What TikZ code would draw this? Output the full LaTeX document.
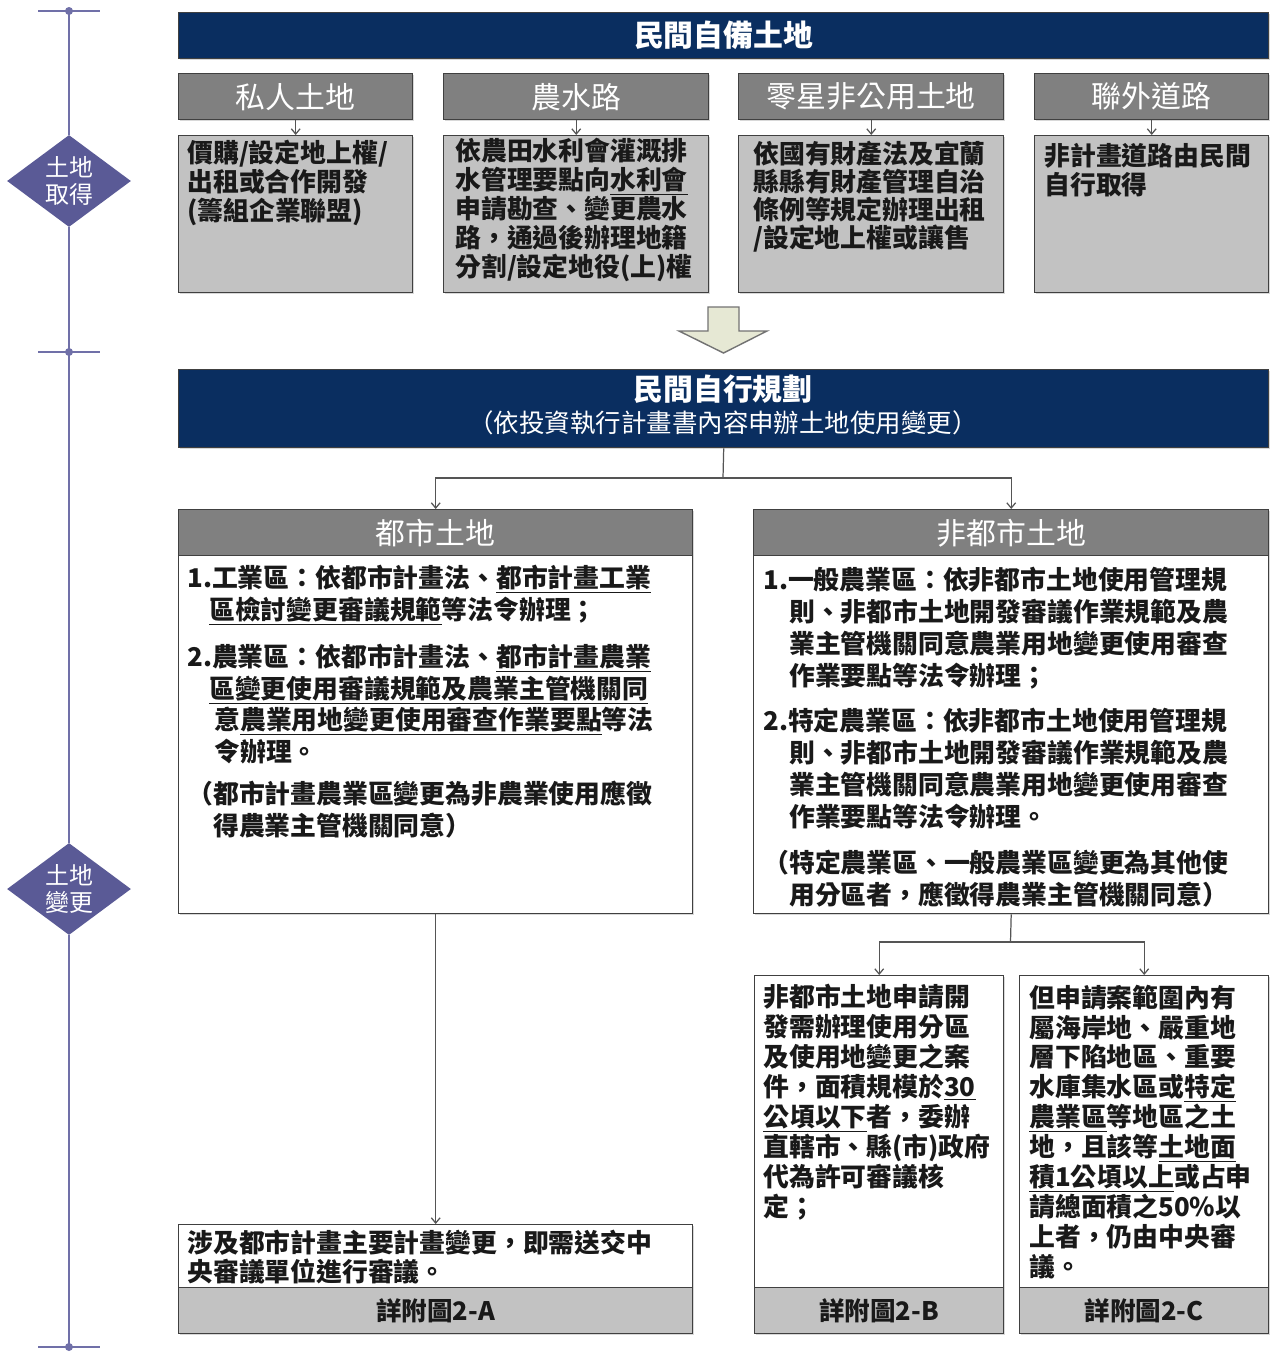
\documentclass[tikz,border=0pt]{standalone}
\usepackage{fontspec}
\setmainfont{Noto Sans CJK TC}
\usetikzlibrary{shapes.geometric,arrows.meta,shadows}
\definecolor{navy}{RGB}{10,46,96}
\definecolor{hdrgray}{RGB}{128,128,128}
\definecolor{boxgray}{RGB}{194,194,194}
\definecolor{bordergray}{RGB}{64,64,64}
\definecolor{tlcol}{RGB}{112,112,168}
\definecolor{dmcol}{RGB}{90,90,150}
\definecolor{arrfill}{RGB}{230,232,212}
\definecolor{conncol}{RGB}{85,85,85}
\definecolor{ink}{RGB}{25,25,25}
\newcommand\rectnode[7]{\node[#2, anchor=north west, minimum width={(#5-#3)*0.02cm}, minimum height={(#6-#4)*0.02cm}] (#1) at (#3,#4) {#7};}
\newcommand\uln[1]{\underline{#1}}
\begin{document}
\begin{tikzpicture}[x=0.02cm,y=-0.02cm,
  shd/.style={drop shadow={shadow xshift=1pt,shadow yshift=-1pt,opacity=0.3}},
  banner/.style={draw=bordergray, fill=navy, line width=0.8pt, text=white, inner sep=0pt, shd},
  hdr/.style={draw=bordergray, fill=hdrgray, line width=0.8pt, text=white, inner sep=0pt, font=\fontsize{17}{20}\selectfont, shd},
  graybox/.style={draw=bordergray, fill=boxgray, line width=0.8pt, inner sep=0pt, shd},
  whitebox/.style={draw=bordergray, fill=white, line width=0.8pt, inner sep=0pt, shd},
  foot/.style={draw=bordergray, fill=boxgray, line width=0.8pt, inner sep=0pt, text=ink, font=\fontsize{14.5}{17}\selectfont\bfseries, shd},
  body/.style={anchor=base west, inner sep=0pt, align=left, text=ink, font=\fontsize{14.7}{#1}\selectfont\bfseries},
  conn/.style={draw=conncol, line width=0.7pt},
  arr/.style={conn, -{Straight Barb[length=3pt,width=5pt]}},
  tl/.style={draw=tlcol, line width=1pt},
  dm/.style={diamond, aspect=1.35, fill=dmcol, text=white, inner sep=0pt, minimum width=2.48cm, minimum height=1.84cm, align=center, font=\fontsize{13.6}{15.3}\selectfont},
  dot/.style={circle, fill=tlcol, inner sep=0pt, minimum size=0.16cm}
]
\fill[white] (0,0) rectangle (1270,1352);
\useasboundingbox (0,0) rectangle (1270,1352);

% ---------- timeline ----------
\coordinate (t1) at (69,11);
\coordinate (t2) at (69,352);
\coordinate (t3) at (69,1347);
\draw[tl] (38,11) -- (100,11);
\draw[tl] (38,352) -- (100,352);
\draw[tl] (38,1347) -- (100,1347);
\node[dm] (d1) at (69,181) {土地\\取得};
\node[dm] (d2) at (69,889) {土地\\變更};
\draw[tl] (t1) -- (d1.north);
\draw[tl] (d1.south) -- (t2);
\draw[tl] (t2) -- (d2.north);
\draw[tl] (d2.south) -- (t3);
\node[dot] (p1) at (t1) {};
\node[dot] (p2) at (t2) {};
\node[dot] (p3) at (t3) {};

% ---------- top banner ----------
\rectnode{b1}{banner, font=\fontsize{17}{20}\selectfont\bfseries}{178}{12}{1268}{58}{民間自備土地}

\rectnode{h1}{hdr}{178}{73}{412}{119}{私人土地}
\rectnode{h2}{hdr}{443}{73}{708}{119}{農水路}
\rectnode{h3}{hdr}{738}{73}{1003}{119}{零星非公用土地}
\rectnode{h4}{hdr}{1034}{73}{1268}{119}{聯外道路}

\rectnode{c1}{graybox}{178}{135}{412}{292}{}
\rectnode{c2}{graybox}{443}{135}{708}{292}{}
\rectnode{c3}{graybox}{738}{135}{1003}{292}{}
\rectnode{c4}{graybox}{1034}{135}{1268}{292}{}

\draw[arr] (h1.south) -- (c1.north);
\draw[arr] (h2.south) -- (c2.north);
\draw[arr] (h3.south) -- (c3.north);
\draw[arr] (h4.south) -- (c4.north);

% (base anchor = baseline of the last line)
\node[body=16.44] (pt1) at (187,220) {價購/設定地上權/\\出租或合作開發\\(籌組企業聯盟)};
\node[body=16.44] (pt2) at (455,276) {依農田水利會灌溉排\\水管理要點向\uln{水利會}\\申請勘查、變更農水\\路，通過後辦理地籍\\分割/設定地役(上)權};
\node[body=15.9] (pt3) at (753,247) {依國有財產法及宜蘭\\縣縣有財產管理自治\\條例等規定辦理出租\\/設定地上權或讓售};
\node[body=16.44] (pt4) at (1044,194) {非計畫道路由民間\\自行取得};

% ---------- block arrow ----------
\draw[fill=arrfill, draw=black!55, line width=0.8pt] (708,307) -- (739,307) -- (739,331) -- (767,331) -- (723.5,353) -- (679,331) -- (708,331) -- cycle;

% ---------- second banner ----------
\rectnode{b2}{banner}{178}{369}{1268}{447}{}
\node[text=white, inner sep=0pt, font=\fontsize{17}{20}\selectfont\bfseries] (b2a) at (723,389) {民間自行規劃};
\node[text=white, inner sep=0pt, font=\fontsize{14.5}{17}\selectfont] (b2b) at (723,423) {（依投資執行計畫書內容申辦土地使用變更）};

% ---------- urban / non-urban ----------
\rectnode{uh}{hdr}{178}{509}{692}{555}{都市土地}
\rectnode{ub}{whitebox}{178}{555}{692}{913}{}
\rectnode{nh}{hdr}{753}{509}{1268}{555}{非都市土地}
\rectnode{nb}{whitebox}{753}{555}{1268}{913}{}

\coordinate (j1) at (723,478);
\draw[conn] (b2.south) -- (j1);
\draw[arr] (j1) -| (uh.north);
\draw[arr] (j1) -| (nh.north);

\node[body=17.8] (u1) at (187,619) {1.工業區：依都市計畫法、\uln{都市計畫工業}\\\hspace*{0.85em}\uln{區檢討變更審議規範}等法令辦理；};
\node[body=17.9] (u2) at (187,761) {2.農業區：依都市計畫法、\uln{都市計畫農業}\\\hspace*{0.85em}\uln{區變更使用審議規範及農業主管機關同}\\\hspace*{1.05em}意\uln{農業用地變更使用審查作業要點}等法\\\hspace*{1.05em}令辦理。};
\node[body=18] (u3) at (187,835) {（都市計畫農業區變更為非農業使用應徵\\\hspace*{1em}得農業主管機關同意）};

\node[body=18.2] (n1) at (763,685) {1.一般農業區：依非都市土地使用管理規\\\hspace*{1em}則、非都市土地開發審議作業規範及農\\\hspace*{1em}業主管機關同意農業用地變更使用審查\\\hspace*{1em}作業要點等法令辦理；};
\node[body=18.2] (n2) at (763,826) {2.特定農業區：依非都市土地使用管理規\\\hspace*{1em}則、非都市土地開發審議作業規範及農\\\hspace*{1em}業主管機關同意農業用地變更使用審查\\\hspace*{1em}作業要點等法令辦理。};
\node[body=18.2] (n3) at (763,904) {（特定農業區、一般農業區變更為其他使\\\hspace*{1em}用分區者，應徵得農業主管機關同意）};

% ---------- bottom boxes ----------
\rectnode{ba}{whitebox}{178}{1224}{692}{1287}{}
\rectnode{fa}{foot}{178}{1287}{692}{1333}{詳附圖2-A}
\rectnode{bb}{whitebox}{754}{975}{1003}{1287}{}
\rectnode{fb}{foot}{754}{1287}{1003}{1333}{詳附圖2-B}
\rectnode{bc}{whitebox}{1019}{975}{1268}{1287}{}
\rectnode{fc}{foot}{1019}{1287}{1268}{1333}{詳附圖2-C}

\draw[arr] (ub.south) -- (ba.north);
\coordinate (j2) at (1010.5,942);
\draw[conn] (nb.south) -- (j2);
\draw[arr] (j2) -| (bb.north);
\draw[arr] (j2) -| (bc.north);

\node[body=16.44] (ta) at (187,1281) {涉及都市計畫主要計畫變更，即需送交中\\央審議單位進行審議。};
\node[body=17] (tb) at (763,1216) {非都市土地申請開\\發需辦理使用分區\\及使用地變更之案\\件，面積規模於\uln{30}\\\uln{公頃以下}者，委辦\\直轄市、縣(市)政府\\代為許可審議核\\定；};
\node[body=17] (tc) at (1029,1276) {但申請案範圍內有\\屬海岸地、嚴重地\\層下陷地區、重要\\水庫集水區或\uln{特定}\\\uln{農業區}等地區之土\\地，且該等\uln{土地面}\\\uln{積1公頃以上}或占申\\請總面積之50\%以\\上者，仍由中央審\\議。};
\end{tikzpicture}
\end{document}
